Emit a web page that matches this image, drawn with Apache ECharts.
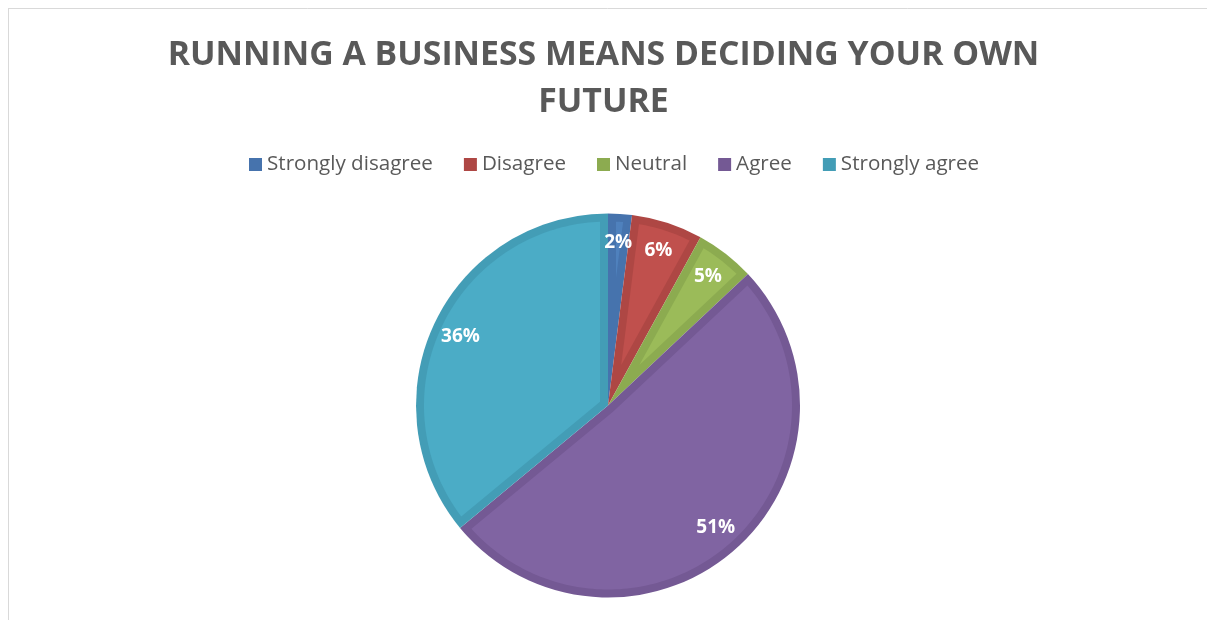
<!DOCTYPE html>
<html>
<head>
<meta charset="utf-8">
<script src="https://cdn.jsdelivr.net/npm/echarts@6/dist/echarts.min.js"></script>
<style>
  html, body { margin: 0; padding: 0; background: #ffffff; }
  #chart { width: 1207px; height: 620px; }
</style>
</head>
<body>
<div id="chart"></div>
<script>
// Survey answers, percent of respondents
const categories = ['Strongly disagree', 'Disagree', 'Neutral', 'Agree', 'Strongly agree'];
const shares = [2, 6, 5, 51, 36];
const fillColors = ['#4f81bd', '#c0504d', '#9bbb59', '#8064a2', '#4bacc6'];
const edgeColors = ['#4673ad', '#ae4744', '#8cab50', '#745994', '#439db6'];
const chartTitle = 'RUNNING A BUSINESS MEANS DECIDING YOUR OWN\nFUTURE';

const CENTER = [608, 405.5];
const RADIUS = 192;
const BAND = 8; // width of the darker rim around each slice

// start / end of every slice on a 0..100 angle scale
let running = 0;
const spans = shares.map(v => {
  const span = [running, running + v];
  running += v;
  return span;
});

// lighter face of a slice, inset by BAND from its arc and both radial edges
function renderFace(params, api) {
  const v0 = api.value(0);
  const v1 = api.value(1);
  const C = api.coord([0, v0]);
  const dir = v => {
    const p = api.coord([RADIUS, v]);
    return [(p[0] - C[0]) / RADIUS, (p[1] - C[1]) / RADIUS];
  };
  const theta = (v1 - v0) / 100 * Math.PI * 2;
  const u0 = dir(v0);
  const n0 = dir(v0 + 25);
  const tApex = BAND / Math.tan(theta / 2);
  const apex = [C[0] + BAND * n0[0] + tApex * u0[0], C[1] + BAND * n0[1] + tApex * u0[1]];
  const delta = Math.asin(BAND / (RADIUS - BAND)) / (Math.PI * 2) * 100;
  const a = v0 + delta;
  const b = v1 - delta;
  const steps = Math.max(6, Math.ceil((b - a) * 3));
  const points = [apex];
  for (let k = 0; k <= steps; k++) {
    points.push(api.coord([RADIUS - BAND, a + (b - a) * k / steps]));
  }
  return {
    type: 'polygon',
    shape: { points: points },
    style: { fill: fillColors[params.dataIndex] }
  };
}

const chart = echarts.init(document.getElementById('chart'), null, { renderer: 'canvas' });

chart.setOption({
  animation: false,
  backgroundColor: '#ffffff',
  title: {
    text: chartTitle,
    left: 'center',
    top: 27,
    textStyle: {
      fontFamily: 'Open Sans',
      fontWeight: 'bold',
      fontSize: 33.8,
      lineHeight: 47,
      color: '#595959'
    }
  },
  legend: {
    data: categories,
    top: 149,
    left: 244,
    icon: 'rect',
    itemWidth: 13,
    itemHeight: 13,
    itemGap: 31,
    selectedMode: false,
    textStyle: { fontFamily: 'Open Sans', fontSize: 20.6, color: '#595959' }
  },
  polar: { center: CENTER, radius: RADIUS },
  angleAxis: {
    type: 'value', min: 0, max: 100, startAngle: 90, clockwise: true,
    axisLine: { show: false }, axisTick: { show: false }, axisLabel: { show: false }, splitLine: { show: false }
  },
  radiusAxis: {
    type: 'value', min: 0, max: RADIUS,
    axisLine: { show: false }, axisTick: { show: false }, axisLabel: { show: false }, splitLine: { show: false }
  },
  graphic: [
    { type: 'line', shape: { x1: 8, y1: 8.5, x2: 1207, y2: 8.5 }, style: { stroke: '#d9d9d9', lineWidth: 1 }, silent: true },
    { type: 'line', shape: { x1: 8.5, y1: 8, x2: 8.5, y2: 620 }, style: { stroke: '#d9d9d9', lineWidth: 1 }, silent: true }
  ],
  series: [
    {
      // full slices in the rim shade
      type: 'pie',
      z: 1,
      center: CENTER,
      radius: [0, RADIUS],
      startAngle: 90,
      clockwise: true,
      silent: true,
      data: categories.map((name, i) => ({
        name: name, value: shares[i], itemStyle: { color: edgeColors[i] }
      })),
      label: { show: false },
      labelLine: { show: false },
      emphasis: { disabled: true }
    },
    {
      // inset faces
      type: 'custom',
      z: 2,
      coordinateSystem: 'polar',
      silent: true,
      renderItem: renderFace,
      data: spans
    },
    {
      // transparent ring carrying the percentage labels
      type: 'pie',
      z: 3,
      center: CENTER,
      radius: [128, RADIUS],
      startAngle: 90,
      clockwise: true,
      silent: true,
      data: categories.map((name, i) => ({ name: name, value: shares[i] })),
      itemStyle: { color: 'rgba(0,0,0,0)', borderWidth: 0 },
      label: {
        show: true,
        position: 'inside',
        formatter: p => p.value + '%',
        fontFamily: 'Open Sans',
        fontWeight: 'bold',
        fontSize: 19,
        color: '#ffffff'
      },
      labelLine: { show: false },
      emphasis: { disabled: true }
    }
  ]
});
</script>
</body>
</html>
